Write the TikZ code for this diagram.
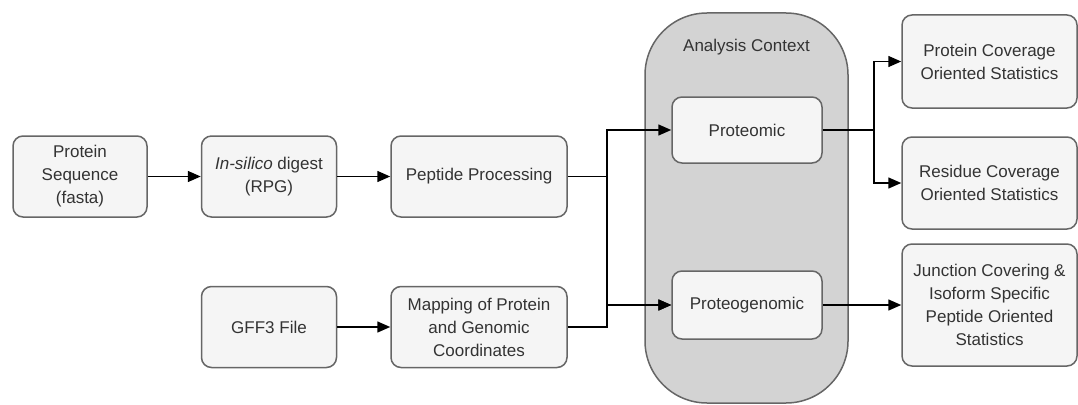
\documentclass[tikz,border=0pt]{standalone}
\usepackage{fontspec}
\setmainfont{Liberation Sans}
\usetikzlibrary{positioning,calc,arrows.meta}
\definecolor{boxfill}{HTML}{F5F5F5}
\definecolor{boxline}{HTML}{666666}
\definecolor{boxtext}{HTML}{333333}
\definecolor{ctxfill}{HTML}{D3D3D3}
\tikzset{
    flow/.style={-{Triangle[length=13pt,width=11pt]}, line width=1.5pt},
}

\begin{document}
\begin{tikzpicture}[x=1pt, y=-1pt, stage/.style={rectangle, rounded corners=10pt, draw=boxline, line width=1.5pt, fill=boxfill, text=boxtext, align=center, minimum width=#1, minimum height=81pt, inner sep=2pt, font=\fontsize{17}{23}\selectfont}, stage/.default=135pt]
  \useasboundingbox (0,0) rectangle (1078,404);

  % CONTEXTO
  \node [draw=boxline, line width=1.5pt, fill=ctxfill, rounded corners=62pt, minimum width=203pt, minimum height=390pt] (context) at (746.5,208) {};
  \node [text=boxtext, font=\fontsize{17}{23}\selectfont] (contexttitle) at ($(context.north)+(0,35)$) {Analysis Context};

  % ENTRADAS
  \node [stage=134pt] (seq) at (80,176.5) {Protein\\Sequence\\(fasta)};
  \node [stage, right=53pt of seq] (digest) {\textit{In-silico} digest\\(RPG)};
  \node [stage=176pt, right=53pt of digest] (peptide) {Peptide Processing};
  \node [stage, below=68pt of digest] (gff) {GFF3 File};
  \node [stage=176pt, right=53pt of gff] (mapping) {Mapping of Protein\\and Genomic\\Coordinates};

  % ANALISIS
  \node [stage=150pt, minimum height=66pt] (proteomic) at (747,130) {Proteomic};
  \node [stage=150pt, minimum height=68pt] (proteogenomic) at (747,305) {Proteogenomic};

  % SALIDAS
  \node [stage=175pt, minimum height=93pt] (protcov) at (989.5,61.5) {Protein Coverage\\Oriented Statistics};
  \node [stage=175pt, minimum height=92pt] (rescov) at (989.5,183) {Residue Coverage\\Oriented Statistics};
  \node [stage=175pt, minimum height=122pt] (junction) at (989.5,305) {Junction Covering \&\\Isoform Specific\\Peptide Oriented\\Statistics};

  % CONEXIONES
  \coordinate (leftsplit) at ($(peptide.east)+(39,0)$);
  \coordinate (rightsplit) at ($(proteomic.east)+(51,0)$);
  \draw[flow] (seq) -- (digest);
  \draw[flow] (digest) -- (peptide);
  \draw[flow] (gff) -- (mapping);
  \draw[flow] (peptide.east) -- (leftsplit) |- (proteomic.west);
  \draw[flow] (peptide.east) -- (leftsplit) |- (proteogenomic.west);
  \draw[flow] (mapping.east) -- (mapping.east -| leftsplit) |- (proteogenomic.west);
  \draw[flow] (proteomic.east) -- (rightsplit) |- (protcov.west);
  \draw[flow] (proteomic.east) -- (rightsplit) |- (rescov.west);
  \draw[flow] (proteogenomic.east) -- (proteogenomic.east -| junction.west);
\end{tikzpicture}
\end{document}
